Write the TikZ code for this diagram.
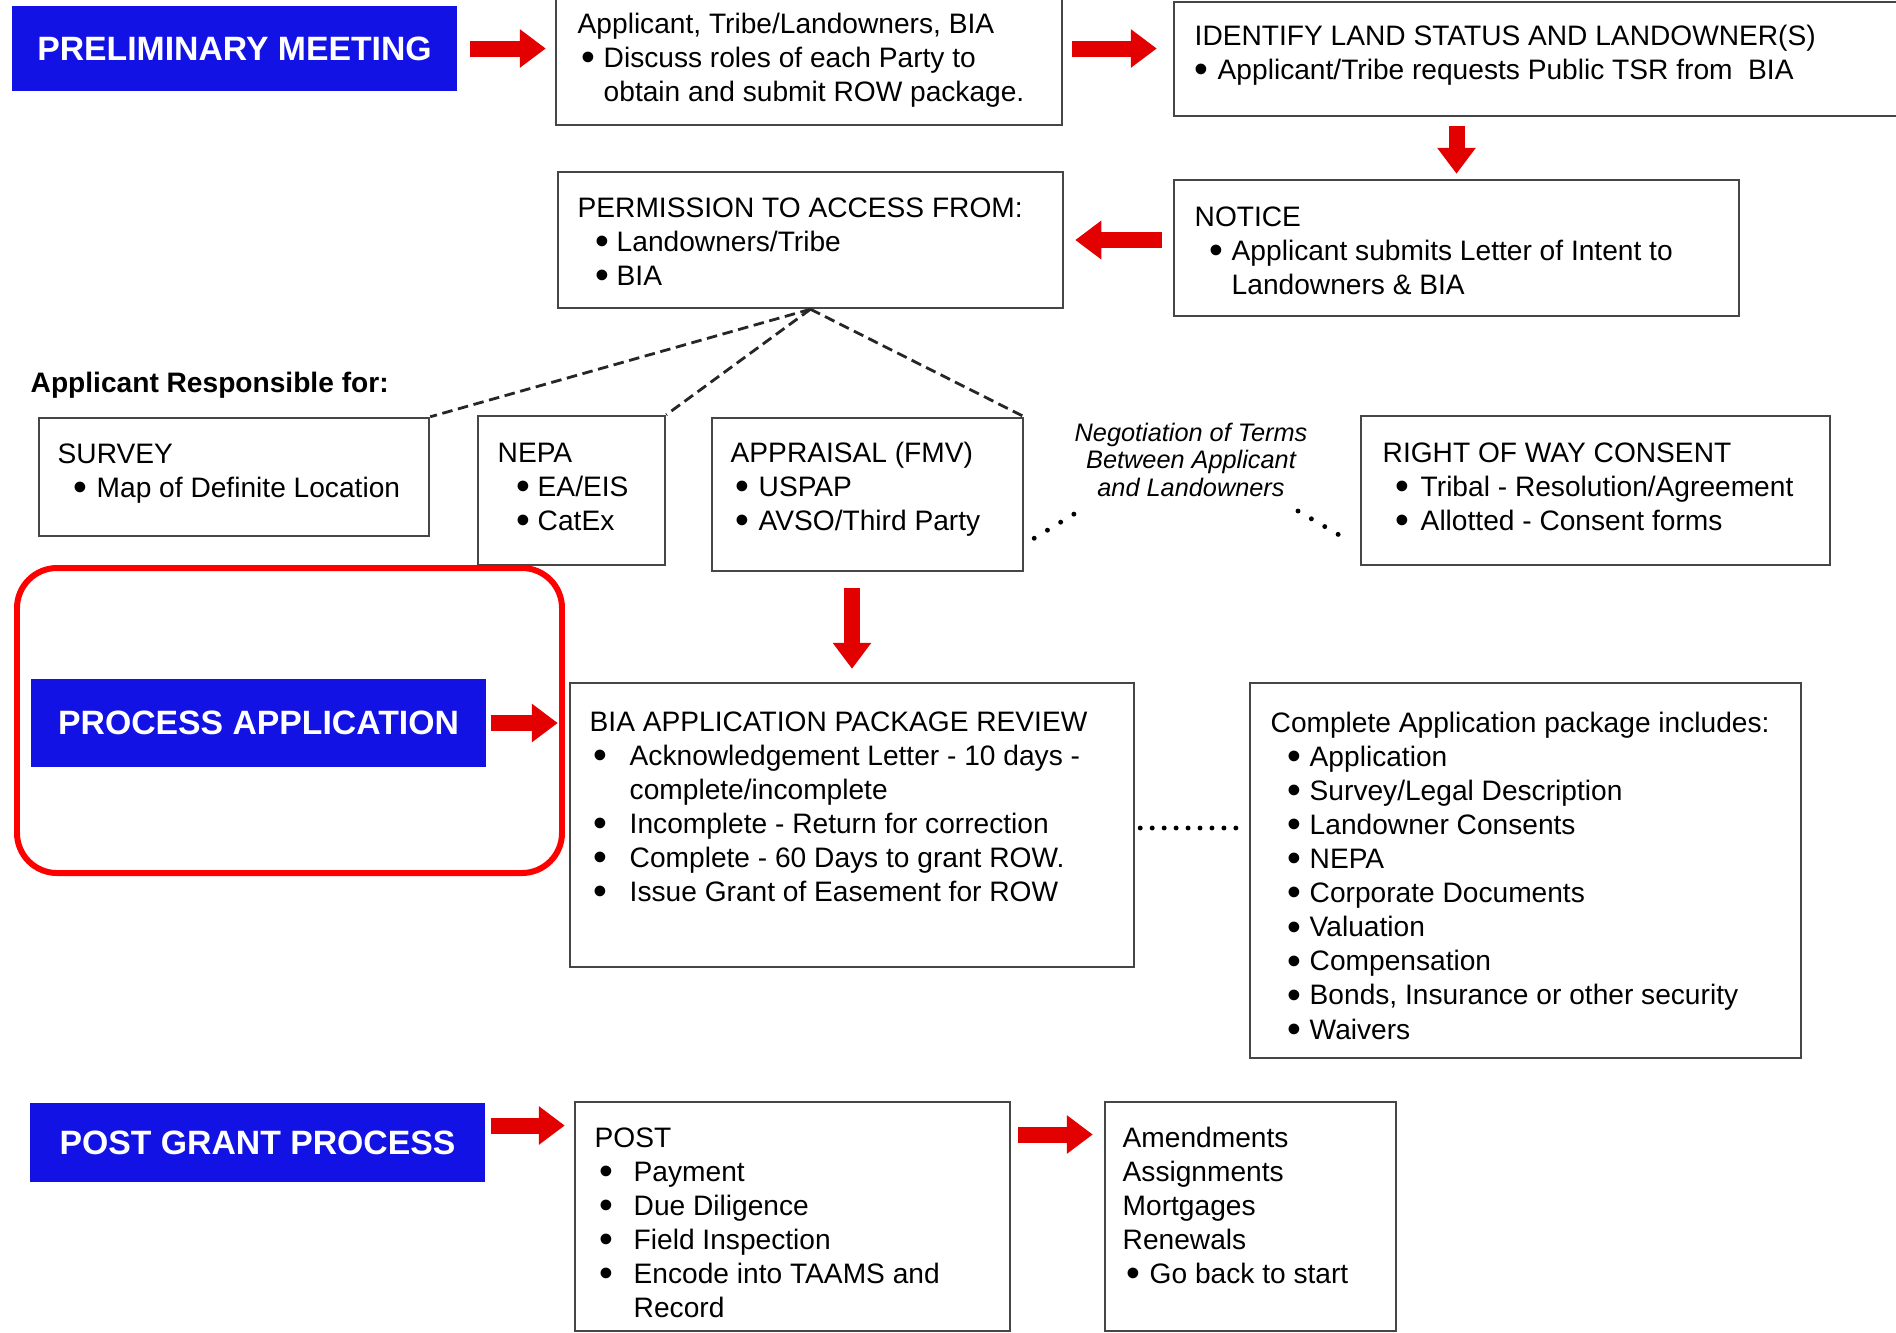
\documentclass[tikz,border=0pt]{standalone}
\usepackage{fontspec}
\setmainfont{Liberation Sans}
\usepackage{tikz}
\usetikzlibrary{arrows.meta,calc,fit}

\definecolor{hdrblue}{RGB}{18,18,228}
\definecolor{arrowred}{RGB}{226,0,0}
\definecolor{framegray}{RGB}{70,70,70}

\newcommand{\bul}[1]{\makebox[#1][l]{\raisebox{-0.12em}{\scalebox{1.4}{\textbullet}}}}

\tikzset{
box/.style={draw=framegray,line width=0.7pt,inner sep=0pt},
hdr/.style={fill=hdrblue,inner sep=0pt},
hdrtext/.style={text=white,inner sep=0pt,font=\fontsize{9.6}{11}\selectfont\bfseries},
txt/.style={anchor=base west,inner sep=0pt,font=\fontsize{8}{9.7}\selectfont},
redarrow/.style={draw=arrowred,line width=0.16cm,-{Triangle[length=0.26cm,width=0.37cm]}},
dashline/.style={draw=black!85,line width=0.8pt,dash pattern=on 3pt off 1.6pt},
dotline/.style={draw=black,line width=1.4pt,line cap=round,dash pattern=on 0pt off 4.4pt}
}

\begin{document}
\begin{tikzpicture}[x=0.01cm,y=-0.01cm]
\useasboundingbox (0,0) rectangle (1896,1332);

\node[hdr,fit={(12,6) (457,91)},label={[hdrtext]center:PRELIMINARY MEETING}] (prelim) {};
\node[hdr,fit={(31,679) (486,767)},label={[hdrtext]center:PROCESS APPLICATION}] (process) {};
\node[hdr,fit={(30,1103) (485,1182)},label={[hdrtext]center:POST GRANT PROCESS}] (postgrant) {};
\node[draw=red,line width=1.7pt,rounded corners=0.4cm,inner sep=0pt,fit={(17,568) (562,873)}] (highlight) {};

\node[box,fit={(556,-10) (1062,125)}] (meeting) {};
\node[box,fit={(1174,2) (1905,116)}] (landstatus) {};
\node[box,fit={(1174,180) (1739,316)}] (notice) {};
\node[box,fit={(558,172) (1063,308)}] (permission) {};
\node[box,fit={(39,418) (429,536)}] (survey) {};
\node[box,fit={(478,416) (665,565)}] (nepa) {};
\node[box,fit={(712,418) (1023,571)}] (appraisal) {};
\node[box,fit={(1361,416) (1830,565)}] (rowconsent) {};
\node[box,fit={(570,683) (1134,967)}] (review) {};
\node[box,fit={(1250,683) (1801,1058)}] (package) {};
\node[box,fit={(575,1102) (1010,1331)}] (post) {};
\node[box,fit={(1105,1102) (1396,1331)}] (amend) {};

\node[txt] (meetingtxt) at (577,33) {\begin{tabular}[t]{@{}l@{}}
Applicant, Tribe/Landowners, BIA\\
\hspace*{0.04cm}\bul{0.22cm}Discuss roles of each Party to\\
\hspace*{0.26cm}obtain and submit ROW package.\end{tabular}};
\node[txt] (landstatustxt) at (1194,45) {\begin{tabular}[t]{@{}l@{}}
IDENTIFY LAND STATUS AND LANDOWNER(S)\\
\bul{0.23cm}Applicant/Tribe requests Public TSR from~ BIA\end{tabular}};
\node[txt] (noticetxt) at (1194,226) {\begin{tabular}[t]{@{}l@{}}
NOTICE\\
\hspace*{0.15cm}\bul{0.22cm}Applicant submits Letter of Intent to\\
\hspace*{0.37cm}Landowners \& BIA\end{tabular}};
\node[txt] (permissiontxt) at (577,217) {\begin{tabular}[t]{@{}l@{}}
PERMISSION TO ACCESS FROM:\\
\hspace*{0.18cm}\bul{0.21cm}Landowners/Tribe\\
\hspace*{0.18cm}\bul{0.21cm}BIA\end{tabular}};
\node[txt,font=\fontsize{8}{9.7}\selectfont\bfseries] (responsible) at (30,392) {Applicant Responsible for:};
\node[txt] (surveytxt) at (57,463) {\begin{tabular}[t]{@{}l@{}}
SURVEY\\
\hspace*{0.16cm}\bul{0.23cm}Map of Definite Location\end{tabular}};
\node[txt] (nepatxt) at (497,462) {\begin{tabular}[t]{@{}l@{}}
NEPA\\
\hspace*{0.19cm}\bul{0.21cm}EA/EIS\\
\hspace*{0.19cm}\bul{0.21cm}CatEx\end{tabular}};
\node[txt] (appraisaltxt) at (730,462) {\begin{tabular}[t]{@{}l@{}}
APPRAISAL (FMV)\\
\hspace*{0.05cm}\bul{0.23cm}USPAP\\
\hspace*{0.05cm}\bul{0.23cm}AVSO/Third Party\end{tabular}};
\node[anchor=base,inner sep=0pt,font=\fontsize{7.2}{7.9}\selectfont\itshape] (negotiation) at (1191,441) {\begin{tabular}[t]{@{}c@{}}
Negotiation of Terms\\ Between Applicant\\ and Landowners\end{tabular}};
\node[txt] (rowconsenttxt) at (1382,462) {\begin{tabular}[t]{@{}l@{}}
RIGHT OF WAY CONSENT\\
\hspace*{0.13cm}\bul{0.25cm}Tribal - Resolution/Agreement\\
\hspace*{0.13cm}\bul{0.25cm}Allotted - Consent forms\end{tabular}};
\node[txt] (reviewtxt) at (589,731) {\begin{tabular}[t]{@{}l@{}}
BIA APPLICATION PACKAGE REVIEW\\
\hspace*{0.04cm}\bul{0.36cm}Acknowledgement Letter - 10 days -\\
\hspace*{0.40cm}complete/incomplete\\
\hspace*{0.04cm}\bul{0.36cm}Incomplete - Return for correction\\
\hspace*{0.04cm}\bul{0.36cm}Complete - 60 Days to grant ROW.\\
\hspace*{0.04cm}\bul{0.36cm}Issue Grant of Easement for ROW\end{tabular}};
\node[txt] (packagetxt) at (1270,732) {\begin{tabular}[t]{@{}l@{}}
Complete Application package includes:\\
\hspace*{0.17cm}\bul{0.22cm}Application\\
\hspace*{0.17cm}\bul{0.22cm}Survey/Legal Description\\
\hspace*{0.17cm}\bul{0.22cm}Landowner Consents\\
\hspace*{0.17cm}\bul{0.22cm}NEPA\\
\hspace*{0.17cm}\bul{0.22cm}Corporate Documents\\
\hspace*{0.17cm}\bul{0.22cm}Valuation\\
\hspace*{0.17cm}\bul{0.22cm}Compensation\\
\hspace*{0.17cm}\bul{0.22cm}Bonds, Insurance or other security\\
\hspace*{0.17cm}\bul{0.22cm}Waivers\end{tabular}};
\node[txt] (posttxt) at (594,1147) {\begin{tabular}[t]{@{}l@{}}
POST\\
\hspace*{0.05cm}\bul{0.34cm}Payment\\
\hspace*{0.05cm}\bul{0.34cm}Due Diligence\\
\hspace*{0.05cm}\bul{0.34cm}Field Inspection\\
\hspace*{0.05cm}\bul{0.34cm}Encode into TAAMS and\\
\hspace*{0.39cm}Record\end{tabular}};
\node[txt] (amendtxt) at (1122,1147) {\begin{tabular}[t]{@{}l@{}}
Amendments\\ Assignments\\ Mortgages\\ Renewals\\
\hspace*{0.04cm}\bul{0.23cm}Go back to start\end{tabular}};

\draw[redarrow,shorten <=0.12cm,shorten >=0.09cm] (prelim.east) -- (prelim.east -| meeting.west);
\draw[redarrow,shorten <=0.09cm,shorten >=0.16cm] (meeting.east |- prelim.east) -- (landstatus.west |- prelim.east);
\draw[redarrow,shorten <=0.09cm,shorten >=0.05cm] (notice.north |- landstatus.south) -- (notice.north);
\draw[redarrow,shorten <=0.11cm,shorten >=0.11cm] (notice.west |- permission.east) -- (permission.east);
\draw[redarrow,shorten <=0.04cm,shorten >=0.11cm] (process.east) -- (process.east -| review.west);
\draw[redarrow,shorten <=0.16cm,shorten >=0.13cm] (review.north |- appraisal.south) -- (review.north);
\draw[redarrow,shorten <=0.05cm,shorten >=0.09cm] ($(postgrant.east)+(0,-17)$) -- ($(postgrant.east -| post.west)+(0,-17)$);
\draw[redarrow,shorten <=0.07cm,shorten >=0.11cm] ($(post.east |- postgrant.east)+(0,-8)$) -- ($(amend.west |- postgrant.east)+(0,-8)$);

\draw[dashline] (permission.south) -- (survey.north east);
\draw[dashline] (permission.south) -- (nepa.north east);
\draw[dashline] (permission.south) -- (appraisal.north east);

\coordinate (negleft) at (1079,511);
\coordinate (negright) at (1298,511);
\draw[dotline] ($(appraisal.south east)+(10,-34)$) -- (negleft);
\draw[dotline] (negright) -- ($(rowconsent.south west)+(-15,-28)$);
\draw[dotline,shorten <=0.05cm,shorten >=0.05cm,dash pattern=on 0pt off 3.4pt] (review.east |- 0,828) -- (package.west |- 0,828);
\end{tikzpicture}
\end{document}
